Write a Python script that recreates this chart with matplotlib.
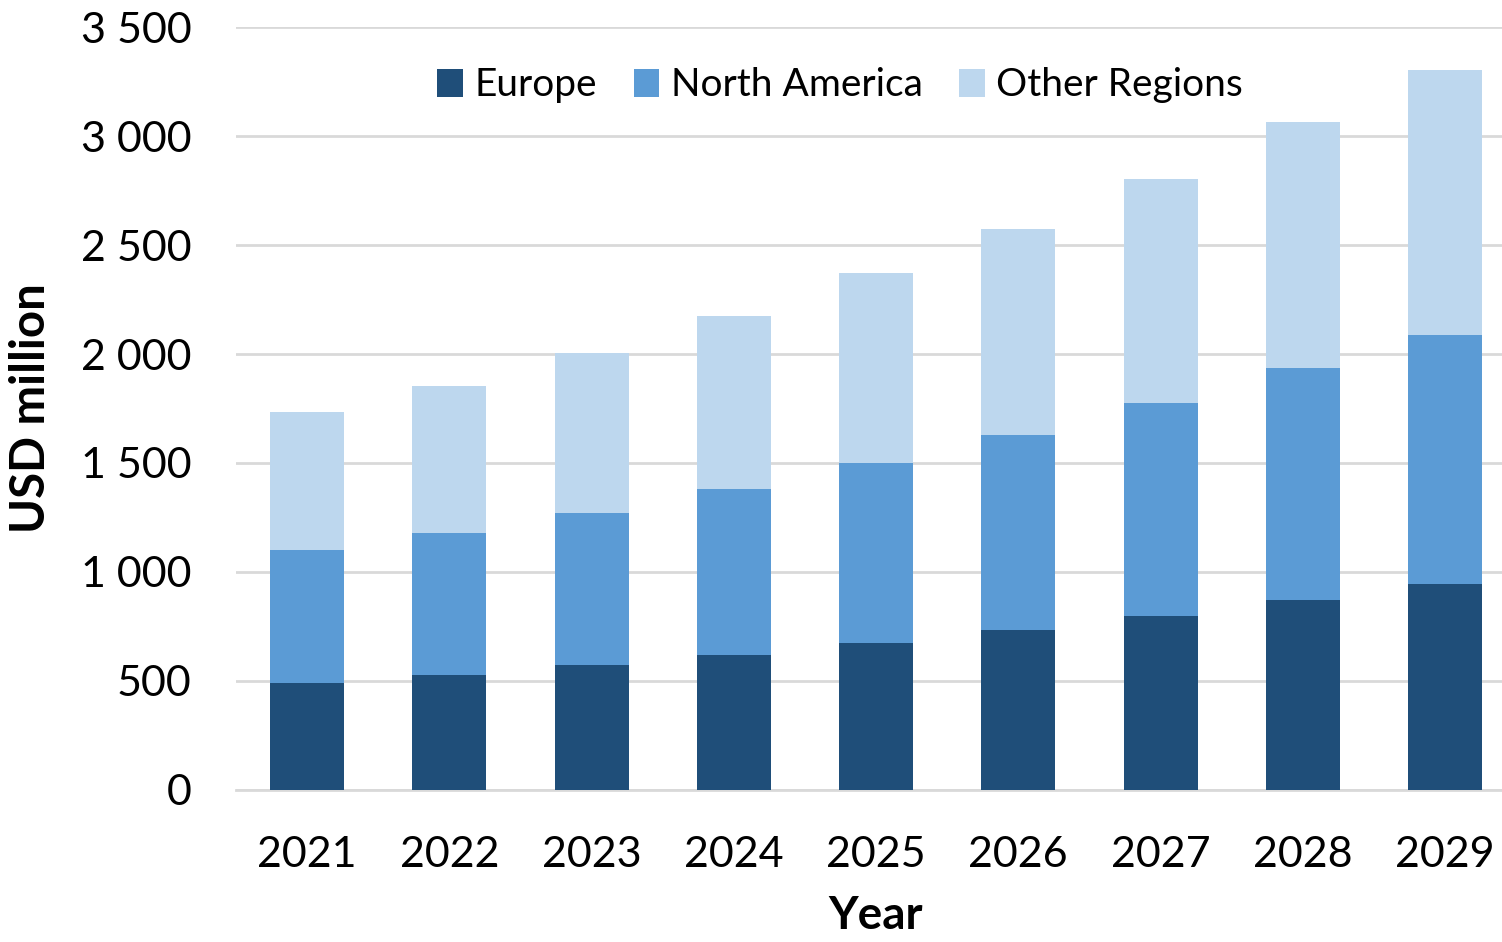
import matplotlib
matplotlib.use("Agg")
import matplotlib.pyplot as plt
import numpy as np
from matplotlib.ticker import FuncFormatter

years = ['2021', '2022', '2023', '2024', '2025', '2026', '2027', '2028', '2029']
europe = [490, 527, 573, 619, 674, 734, 798, 872, 945]
north_america = [611, 652, 698, 762, 826, 894, 977, 1064, 1142]
other_regions = [633, 674, 733, 793, 871, 945, 1028, 1128, 1216]

c_eu = '#1F4E79'
c_na = '#5B9BD5'
c_ot = '#BDD7EE'

plt.rcParams['font.family'] = ['Lato', 'DejaVu Sans']

fig = plt.figure(figsize=(15.02, 9.42), dpi=100)
# axes run a little past the right edge, as in the reference
ax = fig.add_axes([0.1571, 0.1614, 0.8523, 0.8099])

x = np.arange(len(years))
w = 0.52
eu = np.array(europe)
na = np.array(north_america)
ot = np.array(other_regions)
ax.bar(x, eu, w, color=c_eu, label='Europe', zorder=3)
ax.bar(x, na, w, bottom=eu, color=c_na, label='North America', zorder=3)
ax.bar(x, ot, w, bottom=eu + na, color=c_ot, label='Other Regions', zorder=3)

ax.set_xlim(-0.5, len(years) - 0.5)
ax.set_ylim(0, 3500)
ax.set_yticks(np.arange(0, 3501, 500))
ax.yaxis.set_major_formatter(FuncFormatter(lambda v, p: '{:,}'.format(int(v)).replace(',', ' ')))
ax.set_xticks(x)
ax.set_xticklabels(years)
ax.grid(axis='y', color='#D9D9D9', linewidth=2, zorder=0)
for s in ['top', 'right', 'left']:
    ax.spines[s].set_visible(False)
ax.spines['bottom'].set_color('#D9D9D9')
ax.spines['bottom'].set_linewidth(2)
ax.tick_params(axis='both', length=0, labelsize=31)
ax.tick_params(axis='y', pad=32)
ax.tick_params(axis='x', pad=33)

ax.set_xlabel('Year', fontsize=33, fontweight='bold', labelpad=15)
ax.set_ylabel('USD million', fontsize=34, fontweight='bold', labelpad=20)

ax.legend(loc='upper center', bbox_to_anchor=(0.472, 0.993), ncol=3, frameon=False,
          fontsize=28, handlelength=0.65, handleheight=0.75, columnspacing=0.95,
          handletextpad=0.3)

fig.savefig('out.png', dpi=100)
